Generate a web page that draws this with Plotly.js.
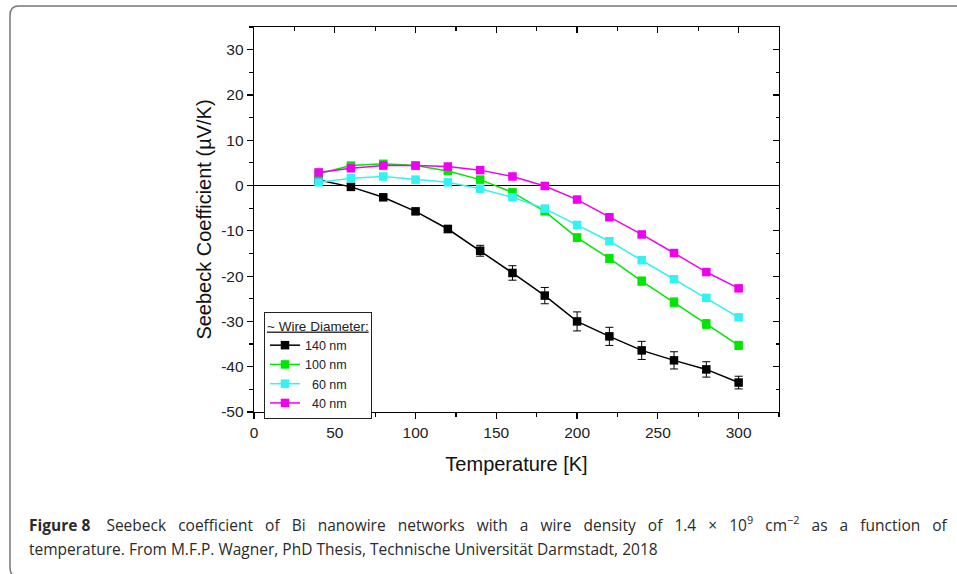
<!DOCTYPE html>
<html>
<head>
<meta charset="utf-8">
<script src="https://cdn.plot.ly/plotly-3.0.1.min.js"></script>
<style>
html,body{margin:0;padding:0;background:#fff;}
#chart{width:957px;height:574px;}
</style>
</head>
<body>
<div id="chart"></div>
<script>
// ---- data ----
const temperature = [40, 60, 80, 100, 120, 140, 160, 180, 200, 220, 240, 260, 280, 300];
const s140 = [1.2, -0.3, -2.6, -5.7, -9.6, -14.4, -19.3, -24.3, -30.0, -33.3, -36.4, -38.6, -40.6, -43.5];
const e140 = [0.3, 0.3, 0.4, 0.5, 0.8, 1.2, 1.6, 1.8, 2.1, 2.0, 2.0, 1.9, 1.7, 1.4];
const s100 = [2.6, 4.4, 4.8, 4.4, 3.2, 1.3, -1.5, -5.7, -11.5, -16.1, -21.1, -25.8, -30.6, -35.3];
const e100 = [0.2, 0.2, 0.3, 0.3, 0.4, 0.5, 0.6, 0.7, 0.8, 0.9, 0.9, 1.0, 1.0, 0.9];
const s60 = [0.7, 1.6, 2.0, 1.3, 0.7, -0.7, -2.6, -5.1, -8.7, -12.3, -16.5, -20.7, -24.8, -29.1];
const e60 = [0.2, 0.2, 0.2, 0.2, 0.3, 0.3, 0.4, 0.5, 0.5, 0.6, 0.6, 0.7, 0.7, 0.6];
const s40 = [2.9, 3.8, 4.4, 4.4, 4.2, 3.4, 2.0, -0.1, -3.1, -7.0, -10.8, -14.9, -19.1, -22.7];
const e40 = [0.2, 0.2, 0.2, 0.2, 0.2, 0.2, 0.3, 0.3, 0.3, 0.3, 0.4, 0.4, 0.4, 0.4];
const seriesNames = ["140 nm", "100 nm", "\u00a0\u00a060 nm", "\u00a0\u00a040 nm"];
const seriesColors = ["#000000", "#00e600", "#33f2f2", "#f000f0"];
const xTickVals = [0, 50, 100, 150, 200, 250, 300];
const xTickText = ["0", "50", "100", "150", "200", "250", "300"];
const yTickVals = [-50, -40, -30, -20, -10, 0, 10, 20, 30];
const yTickText = ["-50", "-40", "-30", "-20", "-10", "0", "10", "20", "30"];

const values = [s140, s100, s60, s40];
const errors = [e140, e100, e60, e40];

const traces = values.map((v, i) => ({
  x: temperature,
  y: v,
  name: seriesNames[i],
  type: 'scatter',
  mode: 'lines+markers',
  line: {color: seriesColors[i], width: 1.5},
  marker: {symbol: 'square', size: 8.5, color: seriesColors[i]},
  error_y: {type: 'data', array: errors[i], visible: true, color: seriesColors[i], thickness: 1, width: 4}
}));
// invisible helper trace so the mirrored top/right axes are drawn
traces.push({
  x: temperature, y: s40, xaxis: 'x2', yaxis: 'y2', type: 'scatter', mode: 'markers',
  marker: {opacity: 0}, showlegend: false, hoverinfo: 'skip'
});

const PL = 254, PR = 779, PT = 27, PB = 412;
const pw = PR - PL, ph = PB - PT;
const px = v => (v - PL) / pw;
const py = v => (PB - v) / ph;

const axisFont = {family: 'Liberation Sans, Arial, sans-serif', size: 15.5, color: '#222'};
const titleFont = {family: 'Liberation Sans, Arial, sans-serif', size: 20, color: '#111'};

const x0 = px(10), x1 = px(990), yT = py(6), yB = py(577);
const rx = 9 / pw, ry = 9 / ph;
const framePath = `M ${x1},${yT} L ${x0 + rx},${yT} Q ${x0},${yT} ${x0},${yT - ry} L ${x0},${yB + ry} Q ${x0},${yB} ${x0 + rx},${yB} L ${x1},${yB}`;

const capFont = {family: 'Open Sans, Noto Sans, sans-serif', size: 15.5, color: '#2a2a2a'};
const G = ' \u00a0\u00a0';
const capLine1Words = ['<b>Figure 8</b>\u00a0', 'Seebeck', 'coefficient', 'of', 'Bi', 'nanowire', 'networks', 'with', 'a', 'wire', 'density', 'of', '1.4', '×', '10<sup>9</sup>', 'cm<sup>−2</sup>', 'as', 'a', 'function', 'of'];

const layout = {
  width: 957, height: 574,
  margin: {l: PL, r: 957 - PR, t: PT, b: 574 - PB, autoexpand: false},
  paper_bgcolor: '#fff', plot_bgcolor: '#fff',
  showlegend: true,
  xaxis: {
    range: [0, 325], tickvals: xTickVals, ticktext: xTickText, ticks: 'outside', ticklen: 6, tickwidth: 1.2, tickcolor: '#000',
    minor: {dtick: 25, tick0: 0, ticks: 'outside', ticklen: 3.5, tickwidth: 1.2, tickcolor: '#000', showgrid: false},
    showline: true, linecolor: '#000', linewidth: 1.3, showgrid: false, zeroline: false,
    tickfont: axisFont,
    title: {text: 'Temperature [K]', font: titleFont, standoff: 17}
  },
  yaxis: {
    range: [-50, 35], tickvals: yTickVals, ticktext: yTickText, ticks: 'outside', ticklen: 6, tickwidth: 1.2, tickcolor: '#000',
    minor: {dtick: 5, tick0: 0, ticks: 'outside', ticklen: 3.5, tickwidth: 1.2, tickcolor: '#000', showgrid: false},
    showline: true, linecolor: '#000', linewidth: 1.3, showgrid: false,
    zeroline: true, zerolinecolor: '#000', zerolinewidth: 1.3,
    tickfont: axisFont,
    title: {text: 'Seebeck Coefficient (µV/K)', font: titleFont, standoff: 4}
  },
  xaxis2: {
    range: [0, 325], overlaying: 'x', side: 'top', anchor: 'y2',
    tickvals: xTickVals, ticks: 'inside', ticklen: 6, tickwidth: 1.2, tickcolor: '#000',
    minor: {dtick: 25, tick0: 0, ticks: 'inside', ticklen: 3.5, tickwidth: 1.2, tickcolor: '#000'},
    showticklabels: false, showline: true, linecolor: '#000', linewidth: 1.3, showgrid: false, zeroline: false
  },
  yaxis2: {
    range: [-50, 35], overlaying: 'y', side: 'right', anchor: 'x2',
    tickvals: yTickVals, ticks: 'inside', ticklen: 6, tickwidth: 1.2, tickcolor: '#000',
    minor: {dtick: 5, tick0: 0, ticks: 'inside', ticklen: 3.5, tickwidth: 1.2, tickcolor: '#000'},
    showticklabels: false, showline: true, linecolor: '#000', linewidth: 1.3, showgrid: false, zeroline: false
  },
  legend: {
    x: px(264), y: py(312), xanchor: 'left', yanchor: 'top',
    bgcolor: '#fff', bordercolor: '#222', borderwidth: 1,
    font: {family: 'Liberation Sans, Arial, sans-serif', size: 12.5, color: '#222'},
    title: {text: '<u>~ Wire Diameter:</u>', font: {family: 'Liberation Sans, Arial, sans-serif', size: 13.5, color: '#222'}},
    tracegroupgap: 0, itemwidth: 30
  },
  shapes: [{
    type: 'path', xref: 'paper', yref: 'paper', path: framePath,
    line: {color: '#777', width: 1.5}
  }],
  annotations: [
    {
      xref: 'paper', yref: 'paper', x: px(27), y: py(524), xanchor: 'left', yanchor: 'middle', showarrow: false,
      align: 'left', font: capFont,
      text: capLine1Words.join(G)
    },
    {
      xref: 'paper', yref: 'paper', x: px(27), y: py(549), xanchor: 'left', yanchor: 'middle', showarrow: false,
      align: 'left', font: capFont,
      text: 'temperature. From M.F.P. Wagner, PhD Thesis, Technische Universität Darmstadt, 2018'
    }
  ]
};

Plotly.newPlot('chart', traces, layout, {displayModeBar: false, staticPlot: true});
</script>
</body>
</html>
